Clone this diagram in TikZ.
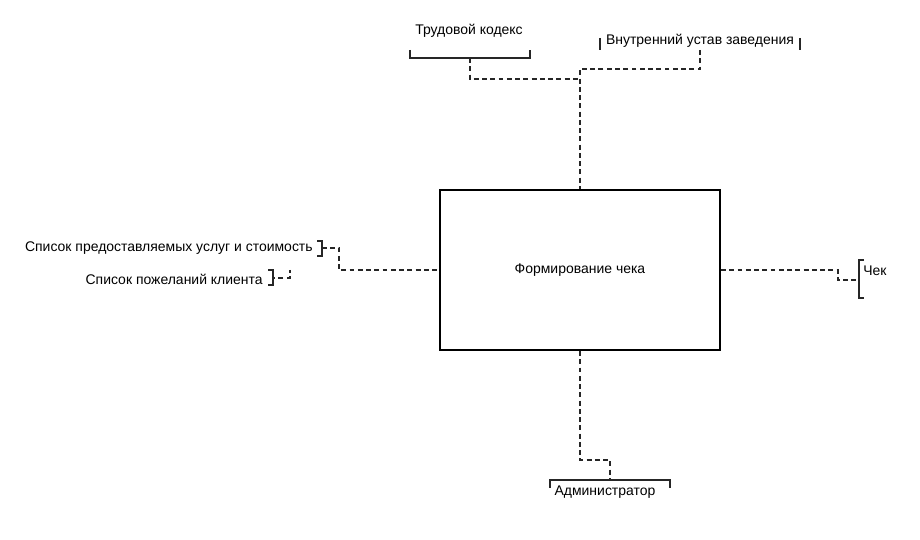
\documentclass[tikz,border=0pt]{standalone}
\usepackage{fontspec}
\setmainfont{Liberation Sans}
\begin{document}
\begin{tikzpicture}[x=0.02cm, y=-0.02cm, main/.style={draw, rectangle, line width=1.2pt, minimum width=5.6cm, minimum height=3.2cm, font=\fontsize{7.95}{9.5}\selectfont}, lbl/.style={inner sep=0pt, font=\fontsize{7.95}{9.5}\selectfont}, br/.style={line width=0.9pt, black!85}, d/.style={line width=0.9pt, black!85, dash pattern=on 2.8pt off 1.9pt}]
            \useasboundingbox (0,0) rectangle (920,540);
            % nodes
            \node[main] (proc) at (580,270) {Формирование чека};
            \node[lbl] (tk) at (469,31) {Трудовой кодекс};
            \node[lbl] (ust) at (700,41) {Внутренний устав заведения};
            \node[lbl, anchor=east] (usl) at (313,248) {Список предоставляемых услуг и стоимость};
            \node[lbl, anchor=east] (pozh) at (263,279) {Список пожеланий клиента};
            \node[lbl, anchor=west] (chek) at (863,271) {Чек};
            \node[lbl] (adm) at (605,492) {Администратор};
            % brackets
            \coordinate (tkb) at (470,58);
            \coordinate (ustb) at (700,50);
            \coordinate (uslb) at (322,248);
            \coordinate (pozhb) at (274,278);
            \coordinate (chekb) at (859,280);
            \coordinate (admb) at (610,480);
            \draw[br] (410,50) -- (410,58) -- (530,58) -- (530,50);
            \draw[br] (600,38) -- (600,50);
            \draw[br] (800,38) -- (800,50);
            \draw[br] (317,241) -- (322,241) -- (322,256) -- (317,256);
            \draw[br] (268,270) -- (273,270) -- (273,285) -- (268,285);
            \draw[br] (864,260) -- (859,260) -- (859,298) -- (864,298);
            \draw[br] (550,488) -- (550,480) -- (670,480) -- (670,488);
            % bends
            \coordinate (j1) at (580,79);
            \coordinate (j2) at (580,69);
            \coordinate (j3) at (339,270);
            \coordinate (j4) at (290,270);
            \coordinate (j5) at (838,280);
            \coordinate (j6) at (610,460);
            % edges
            \draw[d] (tkb) |- (j1);
            \draw[d] (ustb) |- (j2) -- (proc.north);
            \draw[d] (uslb) -| (j3) -- (proc.west);
            \draw[d, dash phase=1pt] (j4) |- (pozhb);
            \draw[d] (proc.east) -| (j5) -- (chekb);
            \draw[d] (proc.south) |- (j6) -- (admb);
        \end{tikzpicture}
\end{document}
